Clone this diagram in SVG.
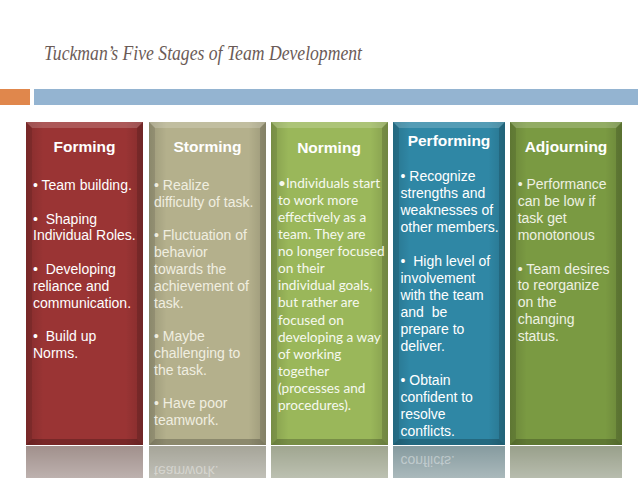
<svg xmlns="http://www.w3.org/2000/svg" width="638" height="479" viewBox="0 0 638 479">
<style>
text{white-space:pre}
.title{font-family:"Liberation Serif","DejaVu Serif",serif;font-style:italic;font-size:22px;fill:#6b5b57}
.hd{font-family:"Liberation Sans",Arial,sans-serif;font-weight:bold;font-size:15.5px;text-anchor:middle}
.bd{font-family:"Liberation Sans",Arial,sans-serif;font-size:14px}
.nb{font-family:Lato,"Open Sans",sans-serif;font-size:13.6px;fill:#f6f9ef}
.bevT{fill:#ffffff;fill-opacity:0.18}
.bevL{fill:#000000;fill-opacity:0.1}
.bevR{fill:#000000;fill-opacity:0.15}
.bevB{fill:#000000;fill-opacity:0.22}
.refl{fill:#a2a29e}
.mir{font-family:"Liberation Sans",Arial,sans-serif;font-size:14px;fill:#ffffff;fill-opacity:0.4}
</style>
<defs>
<linearGradient id="side" x1="0" y1="0" x2="1" y2="0">
<stop offset="0" stop-color="#000" stop-opacity="0.14"/>
<stop offset="0.15" stop-color="#000" stop-opacity="0"/>
<stop offset="0.85" stop-color="#000" stop-opacity="0"/>
<stop offset="1" stop-color="#000" stop-opacity="0.14"/>
</linearGradient>
<linearGradient id="fade" x1="0" y1="0" x2="0" y2="1">
<stop offset="0" stop-color="#fff" stop-opacity="0"/>
<stop offset="1" stop-color="#fff" stop-opacity="0.3"/>
</linearGradient>
<clipPath id="rclip"><rect x="0" y="446" width="638" height="32"/></clipPath>
</defs>
<rect width="638" height="479" fill="#ffffff"/>
<g id="header">
<text class="title" x="44" y="60" textLength="318" lengthAdjust="spacingAndGlyphs">Tuckman’s Five Stages of Team Development</text>
<rect x="0" y="89" width="30" height="16" fill="#e0874c"/>
<rect x="34" y="89" width="604" height="16" fill="#94b4d1"/>
</g>
<g id="reflections">
<rect class="refl" x="26" y="446" width="117" height="32"/><rect x="26" y="446" width="117" height="32" fill="#9a3434" fill-opacity="0.16"/><rect x="26" y="446" width="117" height="32" fill="url(#fade)"/>
<rect class="refl" x="149" y="446" width="117" height="32"/><rect x="149" y="446" width="117" height="32" fill="#b4b08c" fill-opacity="0.25"/><rect x="149" y="446" width="117" height="32" fill="url(#fade)"/>
<rect class="refl" x="271" y="446" width="117" height="32"/><rect x="271" y="446" width="117" height="32" fill="#9ab75a" fill-opacity="0.2"/><rect x="271" y="446" width="117" height="32" fill="url(#fade)"/>
<rect class="refl" x="393" y="446" width="112" height="32"/><rect x="393" y="446" width="112" height="32" fill="#2f87a5" fill-opacity="0.24"/><rect x="393" y="446" width="112" height="32" fill="url(#fade)"/>
<rect class="refl" x="510" y="446" width="112" height="32"/><rect x="510" y="446" width="112" height="32" fill="#7a9a42" fill-opacity="0.2"/><rect x="510" y="446" width="112" height="32" fill="url(#fade)"/>
<g clip-path="url(#rclip)">
<g transform="translate(0,891) scale(1,-1)">
<text class="mir" x="154" y="425.2">teamwork.</text>
<text class="mir" x="400.5" y="435.5">conflicts.</text>
</g>
</g>
</g>
<g id="forming">
<rect x="26" y="122" width="117" height="323" fill="#9a3434"/>
<rect x="26" y="122" width="117" height="323" fill="url(#side)"/>
<polygon class="bevT" points="26,122 143,122 137,128 32,128"/>
<polygon class="bevL" points="26,122 32,128 32,439 26,445"/>
<polygon class="bevR" points="143,122 137,128 137,439 143,445"/>
<polygon class="bevB" points="26,445 32,439 137,439 143,445"/>
<text class="hd" x="84.5" y="152.3" fill="#ffffff">Forming</text>
<g class="bd" fill="#ffffff">
<text x="33" y="190">• Team building.</text>
<text x="33" y="223.6">•  Shaping</text>
<text x="33" y="240.4">Individual Roles.</text>
<text x="33" y="274">•  Developing</text>
<text x="33" y="290.8">reliance and</text>
<text x="33" y="307.6">communication.</text>
<text x="33" y="341.2">•  Build up</text>
<text x="33" y="358">Norms.</text>
</g>
</g>
<g id="storming">
<rect x="149" y="122" width="117" height="323" fill="#b4b08c"/>
<rect x="149" y="122" width="117" height="323" fill="url(#side)"/>
<polygon class="bevT" points="149,122 266,122 260,128 155,128"/>
<polygon class="bevL" points="149,122 155,128 155,439 149,445"/>
<polygon class="bevR" points="266,122 260,128 260,439 266,445"/>
<polygon class="bevB" points="149,445 155,439 260,439 266,445"/>
<text class="hd" x="207.5" y="152.3" fill="#ffffff">Storming</text>
<g class="bd" fill="#f0eee0">
<text x="154" y="190">• Realize</text>
<text x="154" y="206.8">difficulty of task.</text>
<text x="154" y="240.4">• Fluctuation of</text>
<text x="154" y="257.2">behavior</text>
<text x="154" y="274">towards the</text>
<text x="154" y="290.8">achievement of</text>
<text x="154" y="307.6">task.</text>
<text x="154" y="341.2">• Maybe</text>
<text x="154" y="358">challenging to</text>
<text x="154" y="374.8">the task.</text>
<text x="154" y="408.4">• Have poor</text>
<text x="154" y="425.2">teamwork.</text>
</g>
</g>
<g id="norming">
<rect x="271" y="122" width="117" height="323" fill="#9ab75a"/>
<rect x="271" y="122" width="117" height="323" fill="url(#side)"/>
<polygon class="bevT" points="271,122 388,122 382,128 277,128"/>
<polygon class="bevL" points="271,122 277,128 277,439 271,445"/>
<polygon class="bevR" points="388,122 382,128 382,439 388,445"/>
<polygon class="bevB" points="271,445 277,439 382,439 388,445"/>
<text class="hd" x="329" y="153" fill="#ffffff">Norming</text>
<g class="nb">
<text x="278" y="187.7">•Individuals start</text>
<text x="278" y="204.8">to work more</text>
<text x="278" y="221.9">effectively as a</text>
<text x="278" y="239">team. They are</text>
<text x="278" y="256.1">no longer focused</text>
<text x="278" y="273.2">on their</text>
<text x="278" y="290.3">individual goals,</text>
<text x="278" y="307.4">but rather are</text>
<text x="278" y="324.5">focused on</text>
<text x="278" y="341.6">developing a way</text>
<text x="278" y="358.7">of working</text>
<text x="278" y="375.8">together</text>
<text x="278" y="392.9">(processes and</text>
<text x="278" y="410">procedures).</text>
</g>
</g>
<g id="performing">
<rect x="393" y="122" width="112" height="323" fill="#2f87a5"/>
<rect x="393" y="122" width="112" height="323" fill="url(#side)"/>
<polygon class="bevT" points="393,122 505,122 499,128 399,128"/>
<polygon class="bevL" points="393,122 399,128 399,439 393,445"/>
<polygon class="bevR" points="505,122 499,128 499,439 505,445"/>
<polygon class="bevB" points="393,445 399,439 499,439 505,445"/>
<text class="hd" x="449" y="145.7" fill="#ffffff">Performing</text>
<g class="bd" fill="#ffffff">
<text x="400.5" y="180.5">• Recognize</text>
<text x="400.5" y="197.5">strengths and</text>
<text x="400.5" y="214.5">weaknesses of</text>
<text x="400.5" y="231.5">other members.</text>
<text x="400.5" y="265.5">•  High level of</text>
<text x="400.5" y="282.5">involvement</text>
<text x="400.5" y="299.5">with the team</text>
<text x="400.5" y="316.5">and  be</text>
<text x="400.5" y="333.5">prepare to</text>
<text x="400.5" y="350.5">deliver.</text>
<text x="400.5" y="384.5">• Obtain</text>
<text x="400.5" y="401.5">confident to</text>
<text x="400.5" y="418.5">resolve</text>
<text x="400.5" y="435.5">conflicts.</text>
</g>
</g>
<g id="adjourning">
<rect x="510" y="122" width="112" height="323" fill="#7a9a42"/>
<rect x="510" y="122" width="112" height="323" fill="url(#side)"/>
<polygon class="bevT" points="510,122 622,122 616,128 516,128"/>
<polygon class="bevL" points="510,122 516,128 516,439 510,445"/>
<polygon class="bevR" points="622,122 616,128 616,439 622,445"/>
<polygon class="bevB" points="510,445 516,439 616,439 622,445"/>
<text class="hd" x="566" y="152.3" fill="#ffffff">Adjourning</text>
<g class="bd" fill="#eef1e2">
<text x="517.7" y="189">• Performance</text>
<text x="517.7" y="205.9">can be low if</text>
<text x="517.7" y="222.8">task get</text>
<text x="517.7" y="239.7">monotonous</text>
<text x="517.7" y="273.5">• Team desires</text>
<text x="517.7" y="290.4">to reorganize</text>
<text x="517.7" y="307.3">on the</text>
<text x="517.7" y="324.2">changing</text>
<text x="517.7" y="341.1">status.</text>
</g>
</g>
<g id="connectors"/>
</svg>
